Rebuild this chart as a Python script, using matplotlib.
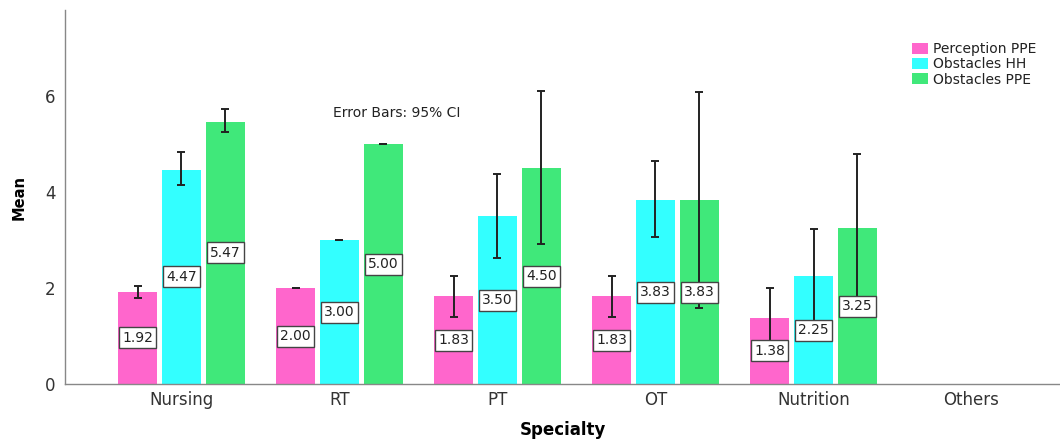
import numpy as np
import matplotlib
matplotlib.use("Agg")
import matplotlib.pyplot as plt

plt.rcParams['font.family'] = ['DejaVu Sans']

categories = ["Nursing", "RT", "PT", "OT", "Nutrition", "Others"]
series_names = ["Perception PPE", "Obstacles HH", "Obstacles PPE"]
perception_ppe = [1.92, 2.00, 1.83, 1.83, 1.38, np.nan]
obstacles_hh = [4.47, 3.00, 3.50, 3.83, 2.25, np.nan]
obstacles_ppe = [5.47, 5.00, 4.50, 3.83, 3.25, np.nan]
ci_low = [
    [1.80, 2.00, 1.40, 1.40, 0.74, np.nan],
    [4.14, 3.00, 2.63, 3.06, 1.28, np.nan],
    [5.25, 5.00, 2.92, 1.58, 1.72, np.nan],
]
ci_high = [
    [2.05, 2.00, 2.26, 2.26, 2.00, np.nan],
    [4.83, 3.00, 4.38, 4.65, 3.23, np.nan],
    [5.73, 5.00, 6.11, 6.10, 4.79, np.nan],
]
colors = ["#FF66CC", "#33FFFF", "#40E87A"]

fig = plt.figure(figsize=(10.6, 4.41), dpi=100)
ax = fig.add_axes([65/1060, 1-384/441, 1-65/1060, (384-10)/441])

x = np.arange(len(categories))
width = 0.247
step = 0.278
series = [perception_ppe, obstacles_hh, obstacles_ppe]
for i, (vals, name, c) in enumerate(zip(series, series_names, colors)):
    pos = x + (i - 1) * step
    vals = np.array(vals, dtype=float)
    lo = np.array(ci_low[i]); hi = np.array(ci_high[i])
    ax.bar(pos, vals, width=width, color=c, label=name, zorder=2)
    ax.errorbar(pos, vals, yerr=[vals - lo, hi - vals], fmt='none', ecolor='#222222',
                elinewidth=1.4, capsize=3.2, capthick=1.4, zorder=3)
    for p, v in zip(pos, vals):
        if np.isnan(v):
            continue
        ax.text(p, v / 2, f"{v:.2f}", ha='center', va='center', fontsize=10, color='#222222',
                zorder=4,
                bbox=dict(boxstyle='square,pad=0.25', facecolor='white', edgecolor='#444444', linewidth=1.0))

ax.set_xlim(-0.737, 5.56)
ax.set_ylim(0, 7.8)
ax.set_yticks([0, 2, 4, 6])
ax.set_xticks(x)
ax.set_xticklabels(categories)
ax.tick_params(axis='both', length=0, labelsize=12, labelcolor='#333333')
ax.tick_params(axis='x', pad=5)
ax.tick_params(axis='y', pad=7)
for s in ['top', 'right']:
    ax.spines[s].set_visible(False)
for s in ['left', 'bottom']:
    ax.spines[s].set_color('#888888')
    ax.spines[s].set_linewidth(1.0)

ax.set_ylabel("Mean", fontsize=10.5, fontweight='bold', labelpad=13)
ax.set_xlabel("Specialty", fontsize=12, fontweight='bold', labelpad=9)

fig.text(397/1060, 1-113/441, "Error Bars: 95% CI", ha='center', va='center', fontsize=10, color='#222222')

leg = fig.legend(loc='upper left', bbox_to_anchor=(905/1060, 1-35/441), frameon=False,
                 fontsize=10, handlelength=1.15, handleheight=0.85, handletextpad=0.4,
                 labelspacing=0.1, borderpad=0)
for t in leg.get_texts():
    t.set_color('#222222')

fig.savefig("out.png", dpi=100)
